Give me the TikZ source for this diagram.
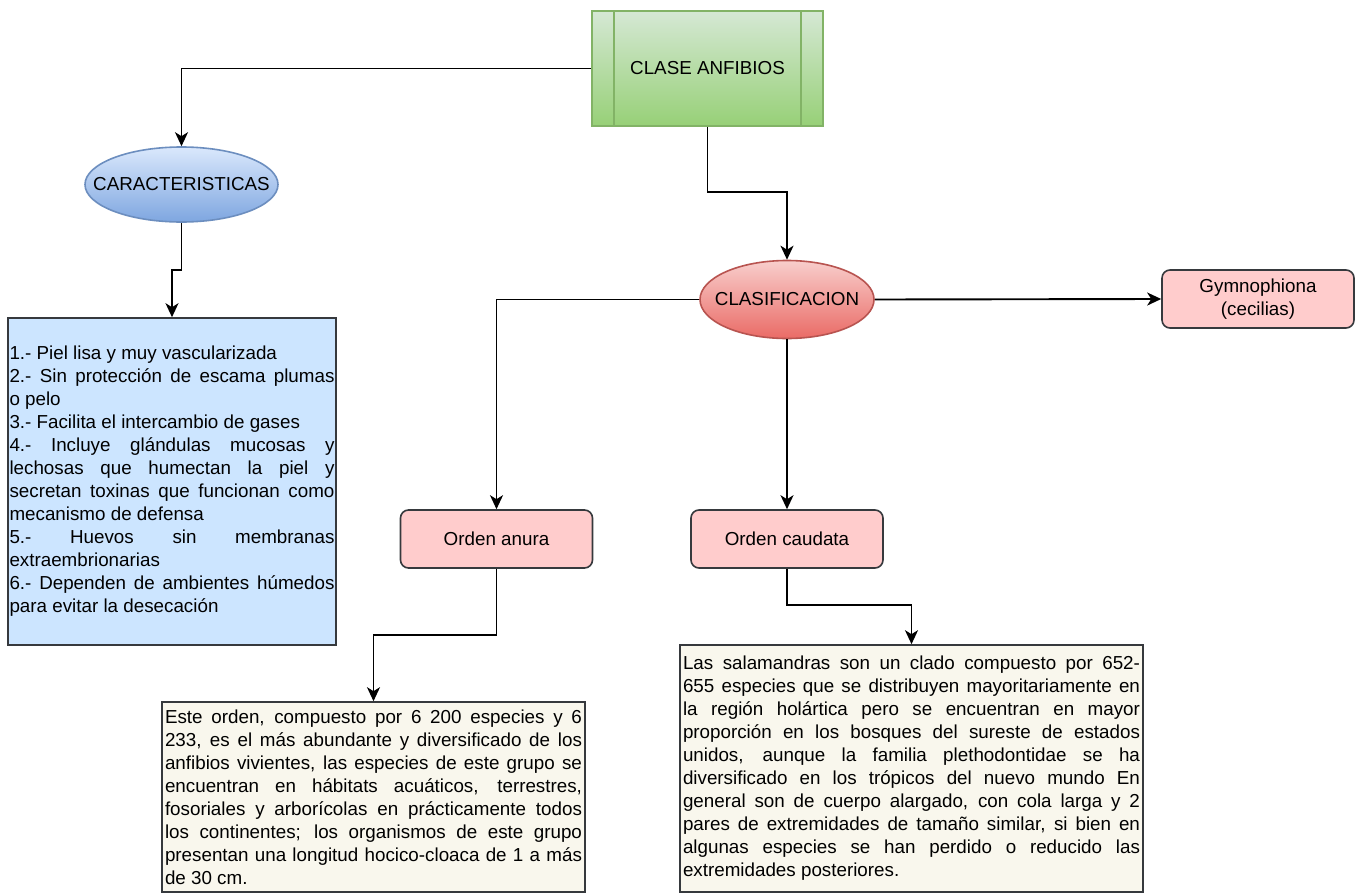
\documentclass[tikz,border=0pt]{standalone}
\usepackage{fontspec}
\setmainfont{Liberation Sans}
\usetikzlibrary{arrows.meta,calc,shapes.geometric}
\definecolor{gtop}{HTML}{D5E8D4}
\definecolor{gbot}{HTML}{97D077}
\definecolor{gborder}{HTML}{82B366}
\definecolor{btop}{HTML}{DAE8FC}
\definecolor{bbot}{HTML}{7EA6E0}
\definecolor{bborder}{HTML}{6C8EBF}
\definecolor{rtop}{HTML}{F8CECC}
\definecolor{rbot}{HTML}{EA6B66}
\definecolor{rborder}{HTML}{B85450}
\definecolor{pinkfill}{HTML}{FFCCCC}
\definecolor{darkborder}{HTML}{36393D}
\definecolor{lightblue}{HTML}{CCE5FF}
\definecolor{cream}{HTML}{F9F7ED}
\tolerance=10000
\hbadness=10000
\hyphenpenalty=10000
\begin{document}
\begin{tikzpicture}[x=1pt,y=-1pt,
  every node/.style={font=\fontsize{18.8}{23}\selectfont, text=black},
  procbox/.style={draw=gborder, line width=1.6pt, top color=gtop, bottom color=gbot,
    minimum width=231pt, minimum height=115pt, inner sep=0pt},
  procline/.style={draw=gborder, line width=1.6pt},
  blueell/.style={ellipse, draw=bborder, line width=1.6pt, top color=btop, bottom color=bbot,
    minimum width=193pt, minimum height=75pt, inner sep=0pt},
  redell/.style={ellipse, draw=rborder, line width=1.6pt, top color=rtop, bottom color=rbot,
    minimum width=174pt, minimum height=78pt, inner sep=0pt},
  pinkbox/.style={draw=darkborder, line width=1.6pt, fill=pinkfill, rounded corners=8pt,
    minimum width=192pt, minimum height=58pt, inner sep=0pt, align=center},
  parbox/.style={draw=darkborder, line width=1.6pt, align=justify, inner ysep=0pt, inner xsep=3pt},
  conn/.style={line width=1.9pt, draw=black, -{Stealth[length=14pt,width=13pt,inset=4pt]}}
]
\useasboundingbox (0,0) rectangle (1357,894);
\fill[white] (0,0) rectangle (1357,894);

\node[procbox] (clase) at (707.5,68.5) {CLASE ANFIBIOS};
\draw[procline] ($(clase.north west)+(23,0)$) -- ($(clase.south west)+(23,0)$);
\draw[procline] ($(clase.north east)+(-23,0)$) -- ($(clase.south east)+(-23,0)$);

\node[blueell] (cara) at (181.5,184.5) {\makebox[0pt]{CARACTERISTICAS}};

\node[parbox, fill=lightblue, text width=325pt, minimum height=327pt, inner xsep=1.5pt] (chars) at (172,481.5) {%
1.- Piel lisa y muy vascularizada\par
2.- Sin protección de escama plumas\linebreak o pelo\par
3.- Facilita el intercambio de gases\par
4.- Incluye glándulas mucosas y\linebreak lechosas que humectan la piel y\linebreak secretan toxinas que funcionan como\linebreak mecanismo de defensa\par
5.- Huevos sin membranas\linebreak extraembrionarias\par
6.- Dependen de ambientes húmedos\linebreak para evitar la desecación};

\node[redell] (clasif) at (787,299.5) {\makebox[0pt]{CLASIFICACION}};

\node[pinkbox] (gym) at (1258,299) {Gymnophiona\\(cecilias)};
\node[pinkbox] (anura) at (496.5,539) {Orden anura};
\node[pinkbox] (caudata) at (787,539) {Orden caudata};

\node[parbox, fill=cream, text width=417pt, minimum height=190pt] (anuratext) at (373.5,797) {%
Este orden, compuesto por 6 200 especies y 6\linebreak
233, es el más abundante y diversificado de los\linebreak
anfibios vivientes, las especies de este grupo se\linebreak
encuentran en hábitats acuáticos, terrestres,\linebreak
fosoriales y arborícolas en prácticamente todos\linebreak
los continentes; los organismos de este grupo\linebreak
presentan una longitud hocico-cloaca de 1 a más\linebreak
de 30 cm.};

\node[parbox, fill=cream, text width=457pt, minimum height=247pt] (caudtext) at (911.5,768.5) {%
Las salamandras son un clado compuesto por 652-\linebreak
655 especies que se distribuyen mayoritariamente en\linebreak
la región holártica pero se encuentran en mayor\linebreak
proporción en los bosques del sureste de estados\linebreak
unidos, aunque la familia plethodontidae se ha\linebreak
diversificado en los trópicos del nuevo mundo En\linebreak
general son de cuerpo alargado, con cola larga y 2\linebreak
pares de extremidades de tamaño similar, si bien en\linebreak
algunas especies se han perdido o reducido las\linebreak
extremidades posteriores.};

\coordinate (k1) at (0,270);
\coordinate (k2) at (0,192);
\coordinate (k3) at (0,635);
\coordinate (k4) at (0,605);

\draw[conn] (clase.west) -| (cara.north);
\draw[conn] (cara.south) -- (cara.south |- k1) -| (chars.north);
\draw[conn] (clase.south) -- (clase.south |- k2) -| (clasif.north);
\draw[conn] (clasif.west) -| (anura.north);
\draw[conn] (clasif.east) -- (gym.west);
\draw[conn] (clasif.south) -- (caudata.north);
\draw[conn] (anura.south) -- (anura.south |- k3) -| (anuratext.north);
\draw[conn] (caudata.south) -- (caudata.south |- k4) -| (caudtext.north);
\end{tikzpicture}
\end{document}
